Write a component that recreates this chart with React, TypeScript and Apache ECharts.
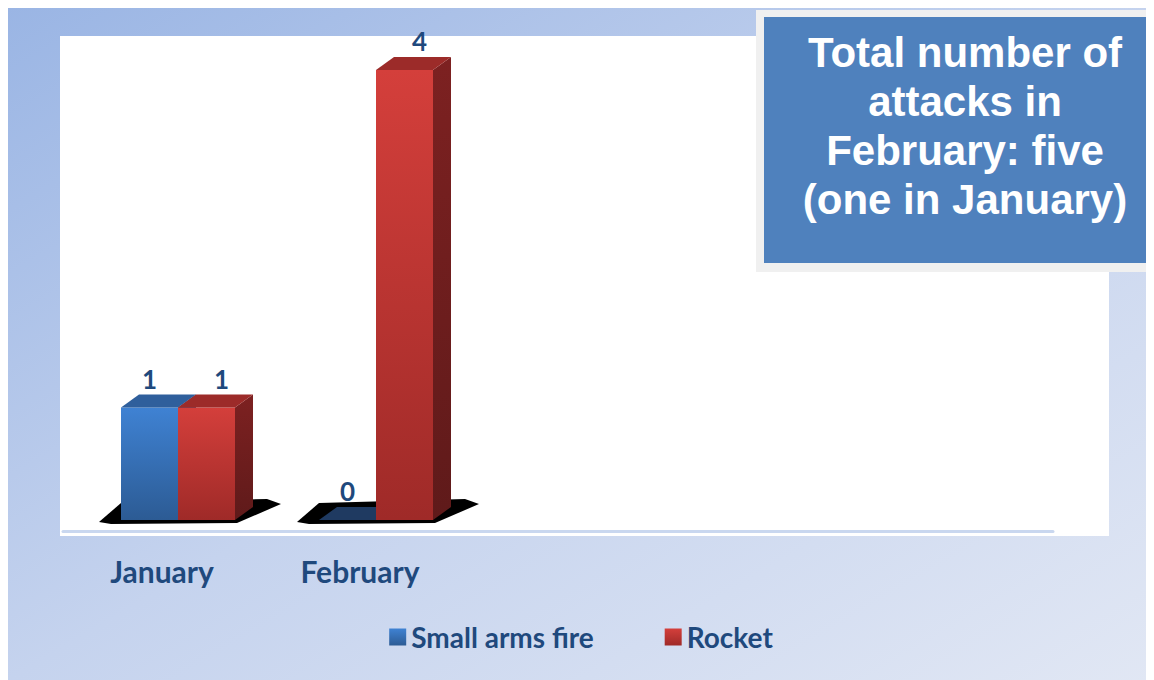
import React, { useEffect, useRef } from "react";
import * as echarts from "echarts";

const categories = ["January", "February", "", "", ""];
const smallArmsFire = [1, 0];
const rocket = [1, 4];
const seriesNames = ["Small arms fire", "Rocket"];
const titleLines = ["Total number of", "attacks in", "February: five", "(one in January)"];

const FONT = "Lato, 'Open Sans', sans-serif";
const TEXT_BLUE = "#1f497d";

const palette = [
  { front: ["#3f82d3", "#2c5b94"], top: "#2f5f9c", side: ["#24487a", "#1c3a63"], flat: "#1f3a61" },
  { front: ["#d43f3b", "#9f2a28"], top: "#9c2b29", side: ["#7d2121", "#5f1a1a"], flat: "#7d2121" },
];

export default function App() {
  const ref = useRef<HTMLDivElement>(null);
  useEffect(() => {
    if (!ref.current) return;
    const chart = echarts.init(ref.current, null, { renderer: "svg" });
    const W = 57;
    const DX = 18;
    const DY = 13;
    const LIFT = 11;

    const makeRender = (s: number) => (params: any, api: any) => {
      const idx = api.value(0);
      const v = api.value(1);
      const base = api.coord([idx, 0]);
      const topPt = api.coord([idx, v]);
      const cx = base[0];
      const y0 = base[1] - LIFT;
      const y1 = topPt[1] - LIFT;
      const left = s === 0 ? cx - 41 : cx + 16;
      const right = left + W;
      const p = palette[s];
      const children: any[] = [];
      if (s === 0) {
        const L = cx - 41;
        const R = cx + 16 + W;
        children.push({
          type: "polygon",
          shape: {
            points: [
              [L - 22, y0 + 2],
              [L, y0 - 17],
              [R + 32, y0 - 21],
              [R + 46, y0 - 16],
              [R + 2, y0 + 3],
              [L - 10, y0 + 4],
            ],
          },
          style: { fill: "#000000" },
        });
      }
      if (v > 0) {
        children.push({
          type: "polygon",
          shape: { points: [[right, y1], [right + DX, y1 - DY], [right + DX, y0 - DY], [right, y0]] },
          style: { fill: new echarts.graphic.LinearGradient(0, 0, 0, 1, [
            { offset: 0, color: p.side[0] },
            { offset: 1, color: p.side[1] },
          ]) },
        });
        children.push({
          type: "rect",
          shape: { x: left, y: y1, width: W, height: y0 - y1 },
          style: { fill: new echarts.graphic.LinearGradient(0, 0, 0, 1, [
            { offset: 0, color: p.front[0] },
            { offset: 1, color: p.front[1] },
          ]) },
        });
      }
      children.push({
        type: "polygon",
        shape: { points: [[left, y1], [left + DX, y1 - DY], [right + DX, y1 - DY], [right, y1]] },
        style: { fill: v > 0 ? p.top : p.flat },
      });
      children.push({
        type: "text",
        style: {
          text: String(v),
          x: left + W / 2 + (s === 1 ? 15 : 0),
          y: y1 - 29,
          align: "center",
          verticalAlign: "middle",
          fill: TEXT_BLUE,
          font: `bold 26px ${FONT}`,
        },
      });
      return { type: "group", children };
    };

    const seriesData = [smallArmsFire, rocket];

    chart.setOption({
      animation: false,
      backgroundColor: new echarts.graphic.LinearGradient(0, 0, 1, 1, [
        { offset: 0, color: "#9ab5e4" },
        { offset: 0.5, color: "#c5d3ee" },
        { offset: 1, color: "#e1e7f4" },
      ]),
      graphic: [
        {
          type: "rect",
          z: -10,
          shape: { x: 52, y: 28, width: 1049, height: 500 },
          style: { fill: "#ffffff" },
          silent: true,
        },
        {
          type: "rect",
          z: 10,
          shape: { x: 748, y: 2, width: 420, height: 262 },
          style: { fill: "#f0f0f0" },
        },
        {
          type: "rect",
          z: 11,
          shape: { x: 756, y: 9, width: 420, height: 246 },
          style: { fill: "#4f81bd" },
        },
        {
          type: "text",
          z: 12,
          x: 957,
          y: 20,
          style: {
            text: titleLines.join("\n"),
            align: "center",
            verticalAlign: "top",
            fill: "#ffffff",
            font: "bold 42px 'Liberation Sans', Arial, sans-serif",
            lineHeight: 49,
          },
        },
      ],
      grid: { left: 55, width: 990, top: 73, height: 450 },
      legend: {
        data: seriesNames,
        left: "center",
        top: 610,
        icon: "rect",
        itemWidth: 17,
        itemHeight: 17,
        itemGap: 71,
        textStyle: { fontSize: 28, fontWeight: "bold", color: TEXT_BLUE, fontFamily: FONT },
      },
      xAxis: {
        type: "category",
        data: categories,
        boundaryGap: true,
        axisLine: { show: true, lineStyle: { color: "#c9d7ef", width: 3 } },
        axisTick: { show: false },
        axisLabel: { margin: 25, fontSize: 30, fontWeight: "bold", color: TEXT_BLUE, fontFamily: FONT, interval: 0 },
        splitLine: { show: false },
      },
      yAxis: {
        type: "value",
        min: 0,
        max: 4,
        show: false,
        splitLine: { show: false },
      },
      series: seriesNames.map((name, s) => ({
        type: "custom",
        name,
        renderItem: makeRender(s),
        itemStyle: {
          color: new echarts.graphic.LinearGradient(0, 0, 0, 1, [
            { offset: 0, color: palette[s].front[0] },
            { offset: 1, color: palette[s].front[1] },
          ]),
        },
        encode: { x: 0, y: 1 },
        data: seriesData[s].map((v, i) => [i, v]),
        clip: false,
      })),
    });
    return () => chart.dispose();
  }, []);
  return <div ref={ref} style={{ width: 1146, height: 672 }} />;
}
